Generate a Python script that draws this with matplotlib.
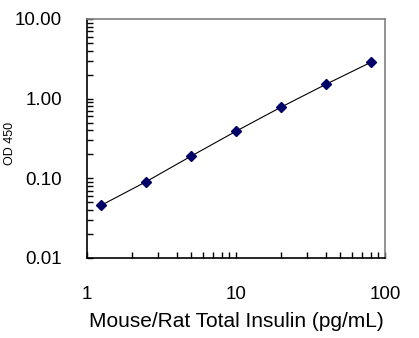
import matplotlib
matplotlib.use("Agg")
import matplotlib.pyplot as plt
from matplotlib.ticker import LogLocator, FixedLocator, FixedFormatter, NullFormatter

# standard curve
conc = [1.25, 2.5, 5, 10, 20, 40, 80]
od450 = [0.046, 0.091, 0.19, 0.39, 0.78, 1.51, 2.85]

x_ticks = [1, 10, 100]
x_labels = ["1", "10", "100"]
y_ticks = [0.01, 0.1, 1, 10]
y_labels = ["0.01", "0.10", "1.00", "10.00"]

plt.rcParams['font.family'] = ['Liberation Sans', 'DejaVu Sans']

fig = plt.figure(figsize=(4.19, 3.38), dpi=100)
ax = fig.add_axes([0.2076, 0.2367, 0.7113, 0.7071])

ax.plot(conc, od450, color="black", linewidth=0.8, marker="D",
        markersize=5.5, markerfacecolor="#000066", markeredgecolor="#000066")

ax.set_xscale("log")
ax.set_yscale("log")
ax.set_xlim(1, 100)
ax.set_ylim(0.01, 10)

ax.xaxis.set_major_locator(FixedLocator(x_ticks))
ax.xaxis.set_major_formatter(FixedFormatter(x_labels))
ax.yaxis.set_major_locator(FixedLocator(y_ticks))
ax.yaxis.set_major_formatter(FixedFormatter(y_labels))
ax.xaxis.set_minor_locator(LogLocator(base=10, subs=range(2, 10)))
ax.yaxis.set_minor_locator(LogLocator(base=10, subs=range(2, 10)))
ax.xaxis.set_minor_formatter(NullFormatter())
ax.yaxis.set_minor_formatter(NullFormatter())

ax.tick_params(axis="both", which="both", direction="in", length=4,
               width=1, labelsize=13.5, top=False, right=False)
ax.tick_params(axis="y", which="both", pad=18)
ax.tick_params(axis="x", which="both", pad=20)

for side in ("top", "right"):
    ax.spines[side].set_color("#808080")
    ax.spines[side].set_linewidth(1.2)
for side in ("left", "bottom"):
    ax.spines[side].set_color("black")
    ax.spines[side].set_linewidth(1.2)

ax.set_xlabel("Mouse/Rat Total Insulin (pg/mL)", fontsize=15, labelpad=7)
ax.set_ylabel("OD 450", fontsize=9)
ax.yaxis.set_label_coords(-0.238, 0.48)

fig.savefig("out.png", dpi=100)
